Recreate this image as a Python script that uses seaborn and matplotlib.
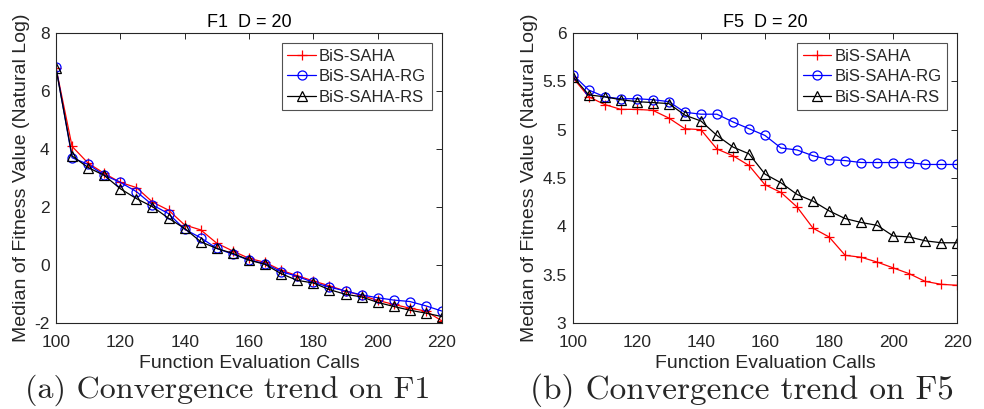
import matplotlib
matplotlib.use("Agg")
import matplotlib.pyplot as plt
import seaborn as sns
import pandas as pd

# evaluation calls (x axis, shared by both panels)
calls = list(range(100, 221, 5))

# F1, D = 20
f1_saha = [6.80, 4.09, 3.51, 3.16, 2.85, 2.67, 2.17, 1.89, 1.38, 1.21, 0.75, 0.48, 0.23,
           0.09, -0.18, -0.37, -0.55, -0.72, -0.90, -1.05, -1.22, -1.36, -1.49, -1.59, -1.93]
f1_rg = [6.82, 3.70, 3.47, 3.10, 2.85, 2.53, 2.07, 1.77, 1.23, 0.94, 0.57, 0.37, 0.17,
         0.05, -0.23, -0.39, -0.60, -0.76, -0.90, -1.03, -1.13, -1.21, -1.26, -1.41, -1.59]
f1_rs = [6.78, 3.76, 3.36, 3.09, 2.63, 2.29, 2.01, 1.61, 1.26, 0.80, 0.57, 0.40, 0.17,
         0.02, -0.30, -0.53, -0.62, -0.85, -1.01, -1.10, -1.29, -1.43, -1.56, -1.66, -1.78]

# F5, D = 20
f5_saha = [5.54, 5.34, 5.26, 5.21, 5.21, 5.20, 5.12, 5.01, 5.00, 4.80, 4.73, 4.63, 4.43,
           4.35, 4.20, 3.98, 3.89, 3.70, 3.68, 3.63, 3.57, 3.51, 3.43, 3.40, 3.39]
f5_rg = [5.57, 5.41, 5.34, 5.32, 5.32, 5.31, 5.29, 5.18, 5.16, 5.16, 5.08, 5.01, 4.94,
         4.81, 4.79, 4.73, 4.69, 4.68, 4.66, 4.66, 4.66, 4.66, 4.64, 4.64, 4.64]
f5_rs = [5.55, 5.36, 5.34, 5.31, 5.29, 5.28, 5.27, 5.15, 5.09, 4.94, 4.82, 4.75, 4.54,
         4.45, 4.33, 4.26, 4.16, 4.08, 4.04, 4.01, 3.90, 3.89, 3.85, 3.83, 3.83]

labels = ["BiS-SAHA", "BiS-SAHA-RG", "BiS-SAHA-RS"]
colors = ["#ff0000", "#0000ff", "#000000"]
markers = ["+", "o", "^"]

sns.set_style("white")
plt.rcParams["font.family"] = ["Liberation Sans", "DejaVu Sans"]
plt.rcParams["axes.unicode_minus"] = False
plt.rcParams["xtick.direction"] = "in"
plt.rcParams["ytick.direction"] = "in"


def draw_panel(ax, series, title, ylim, yticks, yticklabels):
    for vals, lab, col, mk in zip(series, labels, colors, markers):
        df = pd.DataFrame({"calls": calls, "value": vals})
        sns.lineplot(data=df, x="calls", y="value", ax=ax, color=col, marker=mk,
                     markersize=6.5 if mk != "+" else 7, linewidth=0.9,
                     markerfacecolor="none", markeredgecolor=col,
                     markeredgewidth=0.9, label=lab)
    ax.set_xlim(100, 220)
    ax.set_ylim(*ylim)
    ax.set_xticks(range(100, 221, 20))
    ax.set_yticks(yticks)
    ax.set_yticklabels(yticklabels)
    ax.tick_params(axis="both", labelsize=12.5, colors="#262626", length=4,
                   top=True, right=True, width=0.7)
    ax.tick_params(axis="x", pad=9)
    ax.tick_params(axis="y", pad=4.5)
    for s in ax.spines.values():
        s.set_color("#262626")
        s.set_linewidth(0.8)
    ax.set_title(title, fontsize=13, color="#000000", pad=4)
    ax.set_xlabel("Function Evaluation Calls", fontsize=14, color="#262626", labelpad=3)
    ax.set_ylabel("Median of Fitness Value (Natural Log)", fontsize=14,
                  color="#262626", labelpad=3)
    leg = ax.legend(loc="upper right", fontsize=12, frameon=True, fancybox=False,
                    edgecolor="#262626", borderpad=0.35, labelspacing=0.32,
                    handlelength=1.7, handletextpad=0.2, borderaxespad=0.6)
    leg.get_frame().set_linewidth(0.8)


fig = plt.figure(figsize=(9.84, 4.09), dpi=100)
ax1 = fig.add_axes([0.0569, 0.2103, 0.3923, 0.709])
ax2 = fig.add_axes([0.582, 0.2103, 0.3909, 0.709])

draw_panel(ax1, [f1_saha, f1_rg, f1_rs], "F1  D = 20", (-2, 8),
           [-2, 0, 2, 4, 6, 8], ["-2", "0", "2", "4", "6", "8"])
draw_panel(ax2, [f5_saha, f5_rg, f5_rs], "F5  D = 20", (3, 6),
           [3, 3.5, 4, 4.5, 5, 5.5, 6], ["3", "3.5", "4", "4.5", "5", "5.5", "6"])

fig.text(0.231, 0.046, "(a) Convergence trend on F1", family="cmr10",
         fontsize=23, ha="center", va="center")
fig.text(0.754, 0.046, "(b) Convergence trend on F5", family="cmr10",
         fontsize=24, ha="center", va="center")

fig.savefig("out.png", dpi=100)
